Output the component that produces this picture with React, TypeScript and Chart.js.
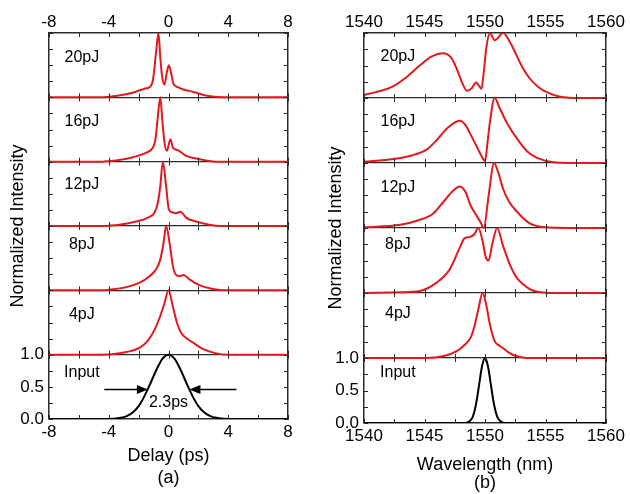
import React, { useEffect, useRef } from 'react';
import { Chart, registerables } from 'chart.js';
Chart.register(...registerables);

const FONT = "'Liberation Sans', Arial, Helvetica, sans-serif";
const RED = '#e3191e';
const BLACK = '#000000';
const FRAME = '#2a2a2a';

// ---------- Panel (a): delay ----------
const delayTickLabels = [-8, -4, 0, 4, 8];
const delayStripLabels = ['Input', '4pJ', '8pJ', '12pJ', '16pJ', '20pJ'];
const delayStripLabelX = -5.8;
const delayStripLabelY = [0.72, 0.62, 0.71, 0.64, 0.62, 0.62];

const inputDelayX = [-8, -4.4, -3.7, -3.2, -2.8, -2.4, -2.0, -1.6, -1.2, -0.8, -0.4, 0, 0.4, 0.8, 1.2, 1.6, 2.0, 2.4, 2.8, 3.2, 3.7, 4.4, 8];
const inputDelayY = [0, 0, 0.005, 0.018, 0.045, 0.1, 0.2, 0.36, 0.56, 0.77, 0.94, 1.0, 0.94, 0.77, 0.56, 0.36, 0.2, 0.1, 0.045, 0.018, 0.005, 0, 0];

const pJ4DelayX = [-8, -4.5, -3.8, -2.82, -1.93, -1.38, -0.93, -0.6, -0.27, 0, 0.29, 0.56, 0.84, 1.18, 1.62, 2.29, 3.18, 4, 8];
const pJ4DelayY = [0, 0, 0.005, 0.04, 0.11, 0.22, 0.39, 0.57, 0.8, 1.0, 0.75, 0.5, 0.34, 0.26, 0.19, 0.09, 0.02, 0, 0];

const pJ8DelayX = [-8, -4.5, -3.93, -2.82, -1.93, -1.27, -0.82, -0.55, -0.33, -0.16, 0.07, 0.29, 0.47, 0.73, 1.02, 1.4, 2.07, 2.96, 4, 8];
const pJ8DelayY = [0, 0, 0.01, 0.05, 0.12, 0.22, 0.33, 0.48, 0.74, 1.0, 0.74, 0.38, 0.25, 0.22, 0.24, 0.17, 0.08, 0.02, 0, 0];

const pJ12DelayX = [-8, -4.5, -4.0, -3.27, -2.16, -1.38, -0.93, -0.71, -0.55, -0.38, -0.16, 0.02, 0.18, 0.5, 0.8, 1.0, 1.18, 1.85, 2.73, 3.5, 8];
const pJ12DelayY = [0, 0, 0.005, 0.02, 0.07, 0.13, 0.21, 0.37, 0.62, 1.0, 0.62, 0.26, 0.22, 0.2, 0.22, 0.18, 0.13, 0.07, 0.02, 0, 0];

const pJ16DelayX = [-8, -4.5, -4.2, -3.49, -2.38, -1.49, -1.04, -0.87, -0.71, -0.55, -0.42, -0.27, -0.11, 0.13, 0.29, 0.62, 1.18, 1.85, 2.5, 3.2, 8];
const pJ16DelayY = [0, 0, 0.005, 0.02, 0.07, 0.14, 0.22, 0.35, 0.71, 1.0, 0.66, 0.3, 0.17, 0.35, 0.22, 0.18, 0.09, 0.05, 0.02, 0, 0];

const pJ20DelayX = [-8, -5, -3.9, -3.04, -2.4, -1.93, -1.5, -1.27, -1.04, -0.82, -0.67, -0.55, -0.42, -0.27, -0.11, 0.02, 0.18, 0.33, 0.62, 0.9, 1.18, 1.4, 1.85, 2.5, 3.1, 4, 8];
const pJ20DelayY = [0, 0, 0.01, 0.04, 0.07, 0.11, 0.14, 0.16, 0.27, 0.73, 1.0, 0.62, 0.31, 0.2, 0.39, 0.5, 0.37, 0.21, 0.16, 0.13, 0.11, 0.1, 0.07, 0.03, 0.01, 0, 0];

// FWHM arrows (panel a)
const arrowTailX = [-4.3, 4.55];
const arrowHeadX = [-1.38, 1.4];
const arrowLevel = 0.46;
const fwhmText = '2.3ps';
const fwhmTextX = 0;
const fwhmTextY = 0.25;

// ---------- Panel (b): wavelength ----------
const wlTickLabels = [1540, 1545, 1550, 1555, 1560];
const wlStripLabels = ['Input', '4pJ', '8pJ', '12pJ', '16pJ', '20pJ'];
const wlStripLabelX = 1542.8;
const wlStripLabelY = [0.78, 0.68, 0.74, 0.62, 0.64, 0.63];

const inputWlX = [1540, 1548, 1548.5, 1548.75, 1549, 1549.25, 1549.5, 1549.75, 1550, 1550.25, 1550.5, 1550.75, 1551, 1551.25, 1551.5, 1552, 1560];
const inputWlY = [0, 0, 0.006, 0.03, 0.1, 0.28, 0.57, 0.87, 1.0, 0.87, 0.57, 0.28, 0.1, 0.03, 0.006, 0, 0];

const pJ4WlX = [1540, 1545, 1546.6, 1547.7, 1548.3, 1548.8, 1549.1, 1549.45, 1549.8, 1550.1, 1550.4, 1550.8, 1551.2, 1551.5, 1552.0, 1552.6, 1553.5, 1560];
const pJ4WlY = [0, 0, 0.03, 0.11, 0.2, 0.31, 0.47, 0.75, 1.0, 0.82, 0.52, 0.26, 0.19, 0.15, 0.08, 0.03, 0, 0];

const pJ8WlX = [1540, 1543, 1544.6, 1546.0, 1547.07, 1547.9, 1548.3, 1548.7, 1549.1, 1549.45, 1549.8, 1550.05, 1550.3, 1550.6, 1551.0, 1551.5, 1552.07, 1552.6, 1553.17, 1553.8, 1554.3, 1556, 1560];
const pJ8WlY = [0, 0.01, 0.03, 0.16, 0.36, 0.69, 0.84, 0.86, 0.9, 1.0, 0.8, 0.56, 0.5, 0.75, 1.0, 0.72, 0.43, 0.24, 0.13, 0.05, 0.02, 0, 0];

const pJ12WlX = [1540, 1543, 1544.5, 1545.7, 1546.55, 1547.3, 1547.9, 1548.4, 1548.8, 1549.2, 1549.6, 1549.9, 1550.3, 1550.75, 1551.1, 1551.5, 1552.0, 1552.6, 1553.7, 1555, 1557, 1560];
const pJ12WlY = [0.01, 0.05, 0.12, 0.22, 0.4, 0.56, 0.64, 0.55, 0.35, 0.22, 0.1, 0.0, 0.5, 1.0, 0.85, 0.6, 0.4, 0.26, 0.07, 0.01, 0, 0];

const pJ16WlX = [1540, 1542.4, 1544, 1545.2, 1546.0, 1546.8, 1547.9, 1548.4, 1548.8, 1549.3, 1549.7, 1550.0, 1550.2, 1550.4, 1550.8, 1551.2, 1551.8, 1552.9, 1553.6, 1554.3, 1555.7, 1557, 1560];
const pJ16WlY = [0.02, 0.06, 0.12, 0.21, 0.35, 0.52, 0.65, 0.58, 0.44, 0.26, 0.11, 0.03, 0.3, 0.62, 1.0, 0.85, 0.62, 0.31, 0.16, 0.08, 0.01, 0, 0];

const pJ20WlX = [1540, 1541, 1542.4, 1543.5, 1544.6, 1545.6, 1546.55, 1547.2, 1547.66, 1548.1, 1548.5, 1548.9, 1549.26, 1549.5, 1549.7, 1549.9, 1550.1, 1550.4, 1550.8, 1551.5, 1552.0, 1552.6, 1553.1, 1553.7, 1554.4, 1555.1, 1556.2, 1558, 1560];
const pJ20WlY = [0.05, 0.09, 0.18, 0.32, 0.5, 0.64, 0.69, 0.62, 0.45, 0.24, 0.11, 0.15, 0.24, 0.19, 0.14, 0.4, 0.76, 1.0, 0.89, 1.0, 0.88, 0.66, 0.47, 0.3, 0.17, 0.09, 0.02, 0, 0];

const yTickLabelVals = [0, 0.5, 1];
const stripColors = [BLACK, RED, RED, RED, RED, RED];
const STRIPS = 6;

type PanelSpec = {
  xMin: number; xMax: number; xStep: number; xLabels: number[];
  xs: number[][]; ys: number[][];
  title: string[]; titleLineHeight: number; titlePadBottom: number;
  yTitlePad: number; leftW: number; rightW: number; topH: number; bottomH: number;
  stripLabels: string[]; stripLabelX: number; stripLabelY: number[];
  arrows: boolean;
};

const decorPlugin = {
  id: 'panelDecor',
  afterDraw(chart: any, _args: any, opts: any) {
    const { ctx, chartArea: a, scales } = chart;
    const xs = scales.x;
    const ys = scales.y;
    const L = 4;
    ctx.save();
    ctx.strokeStyle = FRAME;
    ctx.lineWidth = 1;
    ctx.beginPath();
    for (const t of xs.ticks) {
      const px = Math.round(xs.getPixelForValue(t.value)) + 0.5;
      for (let k = 0; k <= STRIPS; k++) {
        const py = ys.getPixelForValue(k);
        if (k < STRIPS) { ctx.moveTo(px, py); ctx.lineTo(px, py - L); }
        if (k > 0) { ctx.moveTo(px, py); ctx.lineTo(px, py + L); }
      }
    }
    for (const t of ys.ticks) {
      const py = Math.round(ys.getPixelForValue(t.value)) + 0.5;
      ctx.moveTo(a.left, py); ctx.lineTo(a.left + L, py);
      ctx.moveTo(a.right, py); ctx.lineTo(a.right - L, py);
    }
    ctx.stroke();

    ctx.fillStyle = '#000';
    ctx.font = `16px ${FONT}`;
    ctx.textAlign = 'center';
    ctx.textBaseline = 'middle';
    opts.labels.forEach((s: string, i: number) => {
      ctx.fillText(s, xs.getPixelForValue(opts.labelX), ys.getPixelForValue(i + opts.labelY[i]));
    });

    if (opts.arrows) {
      const py = ys.getPixelForValue(arrowLevel);
      ctx.strokeStyle = '#000';
      ctx.lineWidth = 1.5;
      for (let i = 0; i < arrowTailX.length; i++) {
        const x0 = xs.getPixelForValue(arrowTailX[i]);
        const x1 = xs.getPixelForValue(arrowHeadX[i]);
        const dir = Math.sign(x1 - x0);
        ctx.beginPath();
        ctx.moveTo(x0, py);
        ctx.lineTo(x1 - dir * 8, py);
        ctx.stroke();
        ctx.beginPath();
        ctx.moveTo(x1, py);
        ctx.lineTo(x1 - dir * 11, py - 4.5);
        ctx.lineTo(x1 - dir * 11, py + 4.5);
        ctx.closePath();
        ctx.fill();
      }
      ctx.fillText(fwhmText, xs.getPixelForValue(fwhmTextX), ys.getPixelForValue(fwhmTextY));
    }
    ctx.restore();
  },
};

function makeConfig(s: PanelSpec): any {
  const datasets = s.xs.map((xa, i) => ({
    data: xa.map((x, j) => ({ x, y: s.ys[i][j] + i })),
    borderColor: stripColors[i],
    borderWidth: 2,
    pointRadius: 0,
    fill: false,
    cubicInterpolationMode: 'monotone',
  }));
  const tickFont = { family: FONT, size: 17 };
  const xTickCb = (v: number) => (s.xLabels.includes(v) ? String(v) : '');
  const border = { display: true, color: FRAME, width: 1.5 };
  return {
    type: 'line',
    data: { datasets },
    options: {
      animation: false,
      responsive: false,
      devicePixelRatio: 1,
      layout: { padding: 0 },
      plugins: {
        legend: { display: false },
        tooltip: { enabled: false },
        panelDecor: { labels: s.stripLabels, labelX: s.stripLabelX, labelY: s.stripLabelY, arrows: s.arrows },
      },
      scales: {
        x: {
          type: 'linear', position: 'bottom', min: s.xMin, max: s.xMax,
          ticks: { stepSize: s.xStep, autoSkip: false, maxRotation: 0, padding: 3, color: '#000', font: tickFont, callback: xTickCb },
          grid: { display: false, drawTicks: false },
          border,
          title: { display: true, text: s.title, color: '#000', font: { family: FONT, size: 18, lineHeight: s.titleLineHeight }, padding: { top: 0, bottom: s.titlePadBottom } },
          afterFit: (sc: any) => { sc.height = s.bottomH; },
        },
        x2: {
          type: 'linear', position: 'top', min: s.xMin, max: s.xMax,
          ticks: { stepSize: s.xStep, autoSkip: false, maxRotation: 0, padding: 0, color: '#000', font: tickFont, callback: xTickCb },
          grid: { display: false, drawTicks: false },
          border,
          afterFit: (sc: any) => { sc.height = s.topH; },
        },
        y: {
          type: 'linear', position: 'left', min: 0, max: STRIPS,
          ticks: {
            stepSize: 0.25, autoSkip: false, padding: 5, color: '#000', font: tickFont,
            callback: (v: number) => (yTickLabelVals.includes(v) ? v.toFixed(1) : ''),
          },
          grid: {
            drawTicks: false,
            lineWidth: 1.3,
            color: (c: any) => (c.tick && Number.isInteger(c.tick.value) && c.tick.value > 0 && c.tick.value < STRIPS ? FRAME : 'rgba(0,0,0,0)'),
          },
          border,
          title: { display: true, text: 'Normalized Intensity', color: '#000', font: { family: FONT, size: 18 }, padding: { top: s.yTitlePad, bottom: 0 } },
          afterFit: (sc: any) => { sc.width = s.leftW; },
        },
        y2: {
          type: 'linear', position: 'right', min: 0, max: STRIPS,
          ticks: { display: false },
          grid: { display: false, drawTicks: false },
          border,
          afterFit: (sc: any) => { sc.width = s.rightW; },
        },
      },
    },
    plugins: [decorPlugin],
  };
}

const panelA: PanelSpec = {
  xMin: -8, xMax: 8, xStep: 2, xLabels: delayTickLabels,
  xs: [inputDelayX, pJ4DelayX, pJ8DelayX, pJ12DelayX, pJ16DelayX, pJ20DelayX],
  ys: [inputDelayY, pJ4DelayY, pJ8DelayY, pJ12DelayY, pJ16DelayY, pJ20DelayY],
  title: ['Delay (ps)', '(a)'], titleLineHeight: 1.2, titlePadBottom: 5.6,
  yTitlePad: 7, leftW: 49, rightW: 27, topH: 33, bottomH: 75,
  stripLabels: delayStripLabels, stripLabelX: delayStripLabelX, stripLabelY: delayStripLabelY,
  arrows: true,
};

const panelB: PanelSpec = {
  xMin: 1540, xMax: 1560, xStep: 2.5, xLabels: wlTickLabels,
  xs: [inputWlX, pJ4WlX, pJ8WlX, pJ12WlX, pJ16WlX, pJ20WlX],
  ys: [inputWlY, pJ4WlY, pJ8WlY, pJ12WlY, pJ16WlY, pJ20WlY],
  title: ['Wavelength (nm)', '(b)'], titleLineHeight: 1.0, titlePadBottom: 2,
  yTitlePad: 10.5, leftW: 49, rightW: 24, topH: 33, bottomH: 71,
  stripLabels: wlStripLabels, stripLabelX: wlStripLabelX, stripLabelY: wlStripLabelY,
  arrows: false,
};

function Panel({ spec, left }: { spec: PanelSpec; left: number }) {
  const ref = useRef<HTMLCanvasElement | null>(null);
  useEffect(() => {
    if (!ref.current) return;
    const chart = new Chart(ref.current, makeConfig(spec));
    return () => chart.destroy();
  }, [spec]);
  return (
    <canvas
      ref={ref}
      width={315}
      height={494}
      style={{ position: 'absolute', left, top: 0, width: 315, height: 494 }}
    />
  );
}

export default function App() {
  return (
    <div style={{ position: 'fixed', left: 0, top: 0, width: 630, height: 494, background: '#fff', overflow: 'hidden' }}>
      <Panel spec={panelA} left={0} />
      <Panel spec={panelB} left={315} />
    </div>
  );
}
